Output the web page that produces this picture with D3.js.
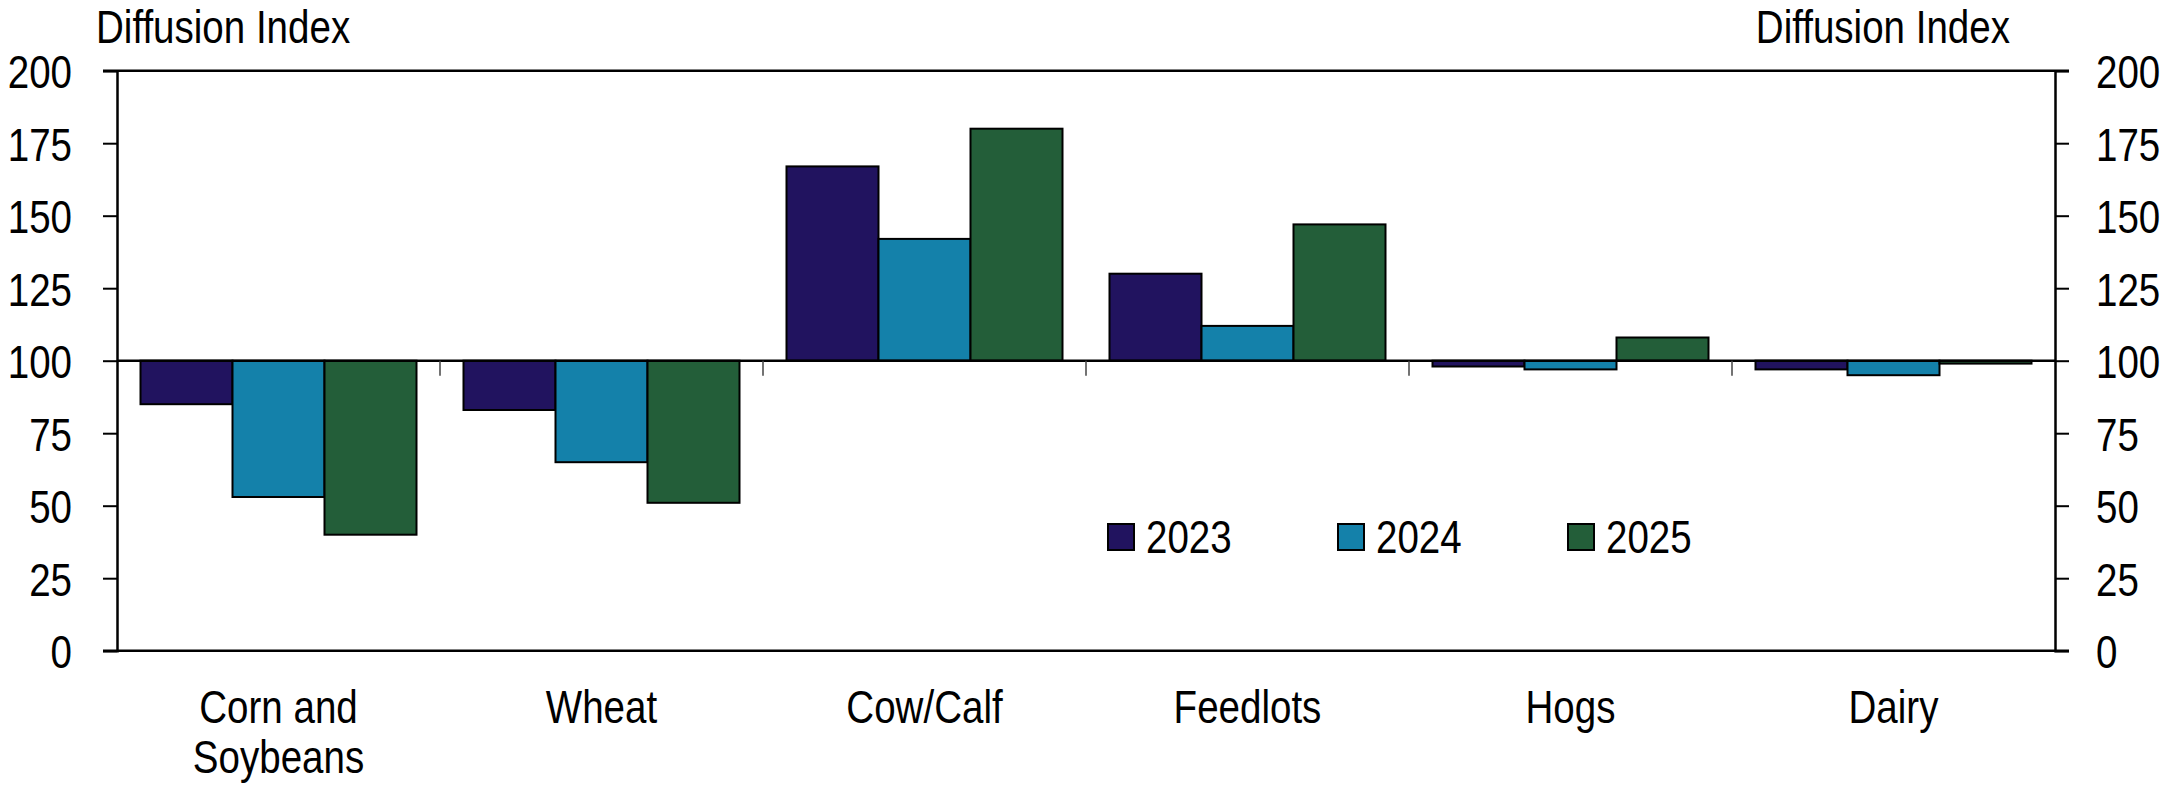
<!DOCTYPE html>
<html>
<head>
<meta charset="utf-8">
<script src="https://cdn.jsdelivr.net/npm/d3@7"></script>
<style>
  html, body { margin: 0; padding: 0; background: #fff; }
  svg text { font-family: "Liberation Sans", Arial, sans-serif; fill: #000; }
</style>
</head>
<body>
<svg id="chart" width="2177" height="786"></svg>
<script>
// ---- Data ----
const categories = ["Corn and\nSoybeans", "Wheat", "Cow/Calf", "Feedlots", "Hogs", "Dairy"];
const seriesNames = ["2023", "2024", "2025"];
const values2023 = [85, 83, 167, 130, 98, 97];
const values2024 = [53, 65, 142, 112, 97, 95];
const values2025 = [40, 51, 180, 147, 108, 99];
const yTicks = [0, 25, 50, 75, 100, 125, 150, 175, 200];
const axisTitle = "Diffusion Index";
const baselineValue = 100;

(function () {
// ---- Styles / layout ----
const colors = ["#21135f", "#1481aa", "#235e39"];
const fontSize = 47;
const squeeze = 0.82; // emulate a narrow typeface
const plotLeft = 117, plotRight = 2055, plotTop = 70.7, plotBottom = 650.7;

const svg = d3.select("#chart");
const seriesValues = [values2023, values2024, values2025];

function narrow(sel) {
  sel.each(function () {
    const t = d3.select(this);
    const x = +t.attr("x") || 0, yy = +t.attr("y") || 0;
    t.attr("x", 0).attr("y", 0)
     .attr("transform", `translate(${x},${yy}) scale(${squeeze},1)`);
  });
}

const y = d3.scaleLinear().domain([0, 200]).range([plotBottom, plotTop]);
const x0 = d3.scaleBand().domain(categories).range([plotLeft, plotRight]).paddingInner(0).paddingOuter(0);
const groupPad = 23.5;
const x1 = d3.scaleBand().domain(seriesNames).range([groupPad, x0.bandwidth() - groupPad]).padding(0);

// Bars
const g = svg.append("g");
seriesNames.forEach((s, si) => {
  g.selectAll(null)
    .data(categories.map((c, ci) => ({ c, v: seriesValues[si][ci] })))
    .enter().append("rect")
    .attr("x", d => x0(d.c) + x1(s))
    .attr("width", x1.bandwidth())
    .attr("y", d => Math.min(y(d.v), y(baselineValue)))
    .attr("height", d => Math.abs(y(d.v) - y(baselineValue)))
    .attr("fill", colors[si])
    .attr("stroke", "#000")
    .attr("stroke-width", 2);
});

// Baseline at 100
svg.append("line")
  .attr("x1", plotLeft).attr("x2", plotRight)
  .attr("y1", y(baselineValue)).attr("y2", y(baselineValue))
  .attr("stroke", "#000").attr("stroke-width", 2.5);

// Category ticks on baseline
svg.selectAll(null)
  .data(categories.slice(1))
  .enter().append("line")
  .attr("x1", d => x0(d)).attr("x2", d => x0(d))
  .attr("y1", y(baselineValue)).attr("y2", y(baselineValue) + 15)
  .attr("stroke", "#444").attr("stroke-width", 1.5);

// Top and bottom frame lines
[200, 0].forEach(v => {
  svg.append("line")
    .attr("x1", plotLeft - 14).attr("x2", plotRight + 14)
    .attr("y1", y(v)).attr("y2", y(v))
    .attr("stroke", "#000").attr("stroke-width", 2.5);
});

// Left axis
const leftAxis = svg.append("g")
  .attr("transform", `translate(${plotLeft},0)`)
  .call(d3.axisLeft(y).tickValues(yTicks).tickSize(14).tickPadding(31).tickFormat(d3.format("d")));
// Right axis
const rightAxis = svg.append("g")
  .attr("transform", `translate(${plotRight},0)`)
  .call(d3.axisRight(y).tickValues(yTicks).tickSize(14).tickPadding(27).tickFormat(d3.format("d")));

[leftAxis, rightAxis].forEach(a => {
  a.attr("font-family", null).attr("font-size", null);
  a.select(".domain").attr("stroke", "#000").attr("stroke-width", 2.5);
  a.selectAll(".tick line").attr("stroke", "#000").attr("stroke-width", 2);
  a.selectAll(".tick text")
    .attr("font-size", fontSize)
    .attr("fill", "#000")
    .attr("dy", "0.36em")
    .call(narrow);
});

// Axis titles
svg.append("text").attr("x", 96).attr("y", 43)
  .attr("font-size", fontSize).text(axisTitle).call(narrow);
svg.append("text").attr("x", 2010).attr("y", 43)
  .attr("text-anchor", "end")
  .attr("font-size", fontSize).text(axisTitle).call(narrow);

// Category labels
svg.selectAll(null)
  .data(categories)
  .enter().append("text")
  .attr("text-anchor", "middle")
  .attr("font-size", fontSize)
  .attr("transform", d => `translate(${x0(d) + x0.bandwidth() / 2},723) scale(${squeeze},1)`)
  .each(function(d) {
    const t = d3.select(this);
    d.split("\n").forEach((ln, i) => {
      t.append("tspan")
        .attr("x", 0)
        .attr("dy", i === 0 ? 0 : 50)
        .text(ln);
    });
  });

// Legend
const legendX = 1108, legendY = 524, legendStep = 230;
const lg = svg.append("g");
seriesNames.forEach((s, i) => {
  lg.append("rect")
    .attr("x", legendX + i * legendStep).attr("y", legendY)
    .attr("width", 26).attr("height", 26)
    .attr("fill", colors[i]).attr("stroke", "#000").attr("stroke-width", 2);
  lg.append("text")
    .attr("x", legendX + i * legendStep + 38).attr("y", 553)
    .attr("font-size", fontSize).text(s).call(narrow);
});
})();
</script>
</body>
</html>
